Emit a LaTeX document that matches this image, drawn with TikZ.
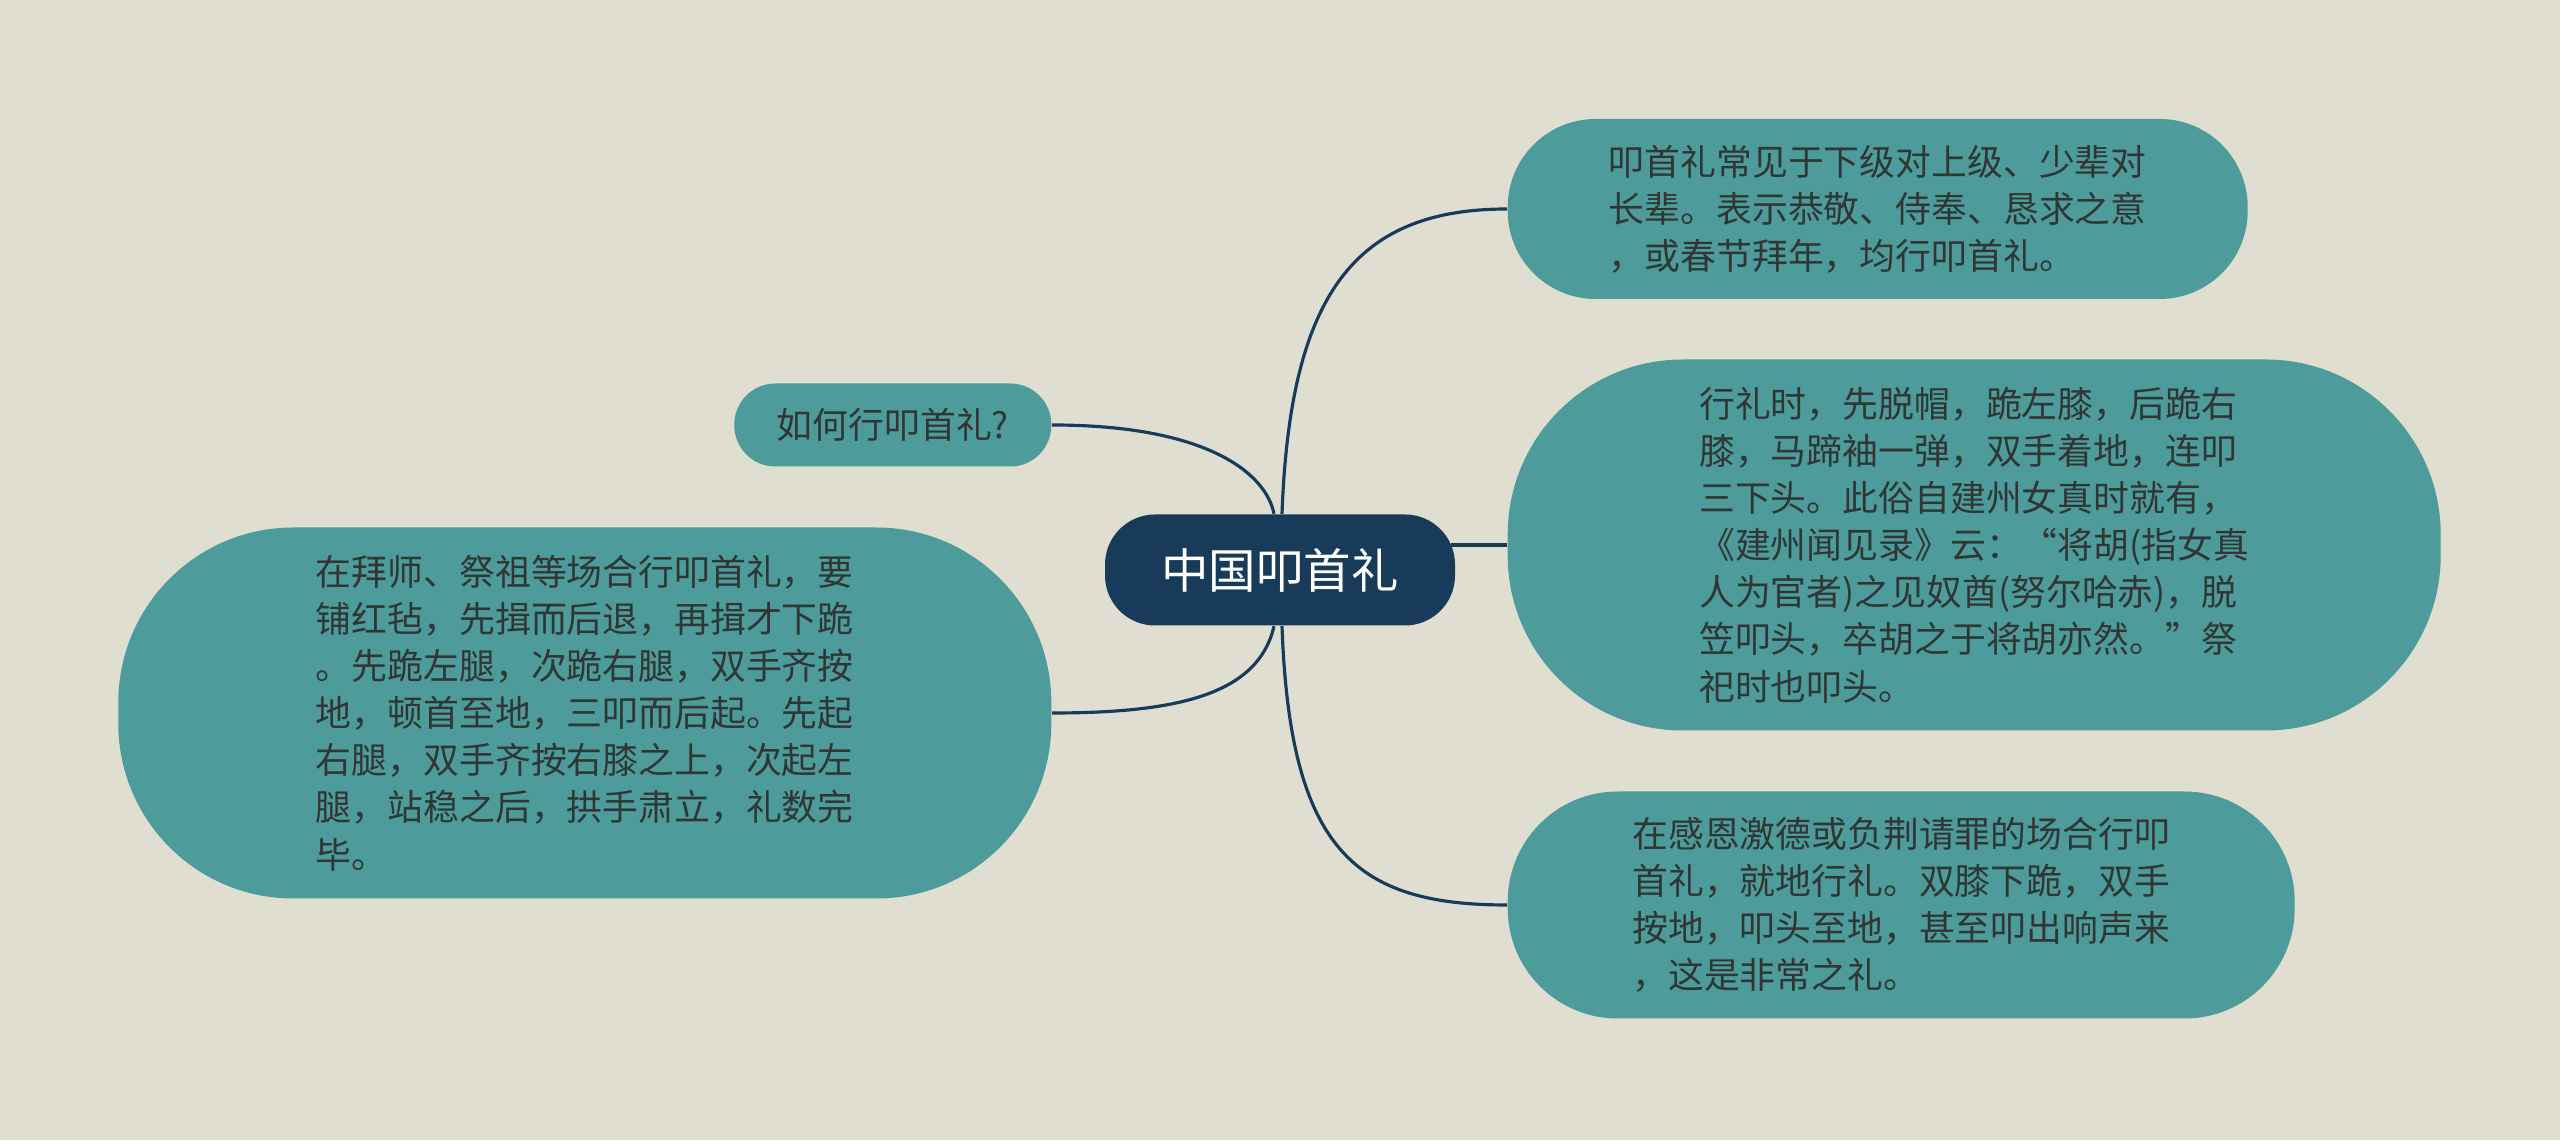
\documentclass[tikz,border=0pt]{standalone}
\usepackage{fontspec}
\setmainfont{Noto Sans CJK SC}
\usetikzlibrary{positioning}
\definecolor{paperbg}{HTML}{DFDED1}
\definecolor{tealbox}{HTML}{4D9C9B}
\definecolor{navybox}{HTML}{183B5A}
\definecolor{inkgray}{HTML}{303634}

\begin{document}
\begin{tikzpicture}[
  root/.style={rectangle, fill=navybox, rounded corners=0.5cm, minimum width=3.5cm,
    minimum height=1.11cm, text=white, font=\fontsize{13.5pt}{16pt}\selectfont},
  leaf/.style={rectangle, fill=tealbox, rounded corners=#1, align=left, inner sep=0pt,
    text=inkgray, font=\fontsize{10.2pt}{13.4pt}\selectfont},
  link/.style={draw=navybox, line width=0.9pt}
]
  % background sheet
  \fill[paperbg] (0,0) rectangle (25.6,11.4);
  \useasboundingbox (0,0) rectangle (25.6,11.4);

  % centre topic
  \node[root] (root) at (12.80,5.70) {中国叩首礼};

  % left branches
  \node[leaf=0.41cm, anchor=east, minimum width=3.17cm, minimum height=0.83cm]
    (how) at (10.52,7.15) {如何行叩首礼?};
  \node[leaf=1.75cm, anchor=east, minimum width=9.33cm, minimum height=3.71cm]
    (steps) at (10.52,4.27) {在拜师、祭祖等场合行叩首礼，要\\铺红毡，先揖而后退，再揖才下跪\\。先跪左腿，次跪右腿，双手齐按\\地，顿首至地，三叩而后起。先起\\右腿，双手齐按右膝之上，次起左\\腿，站稳之后，拱手肃立，礼数完\\毕。};

  % right branches
  \node[leaf=0.88cm, anchor=west, minimum width=7.40cm, minimum height=1.80cm]
    (usage) at (15.07,9.31) {叩首礼常见于下级对上级、少辈对\\长辈。表示恭敬、侍奉、恳求之意\\，或春节拜年，均行叩首礼。};
  \node[leaf=1.75cm, anchor=west, minimum width=9.33cm, minimum height=3.71cm]
    (history) at (15.07,5.95) {行礼时，先脱帽，跪左膝，后跪右\\膝，马蹄袖一弹，双手着地，连叩\\三下头。此俗自建州女真时就有，\\《建州闻见录》云：“将胡(指女真\\人为官者)之见奴酋(努尔哈赤)，脱\\笠叩头，卒胡之于将胡亦然。”祭\\祀时也叩头。};
  \node[leaf=1.1cm, anchor=west, minimum width=7.87cm, minimum height=2.27cm]
    (thanks) at (15.07,2.35) {在感恩激德或负荆请罪的场合行叩\\首礼，就地行礼。双膝下跪，双手\\按地，叩头至地，甚至叩出响声来\\，这是非常之礼。};

  % connectors
  \draw[link] (how.east) .. controls +(1.56,0) and +(-0.08,0.40) .. ([xshift=-0.06cm]root.north);
  \draw[link] ([xshift=0.02cm]root.north) .. controls +(0.08,2.20) and +(-1.52,0) .. (usage.west);
  \draw[link] ([xshift=-0.05cm]root.east |- history.west) -- (history.west);
  \draw[link] ([xshift=-0.06cm]root.south) .. controls +(-0.16,-0.69) and +(1.24,0) .. (steps.east);
  \draw[link] ([xshift=0.02cm]root.south) .. controls +(0.08,-2.24) and +(-1.52,0) .. (thanks.west);
\end{tikzpicture}
\end{document}
